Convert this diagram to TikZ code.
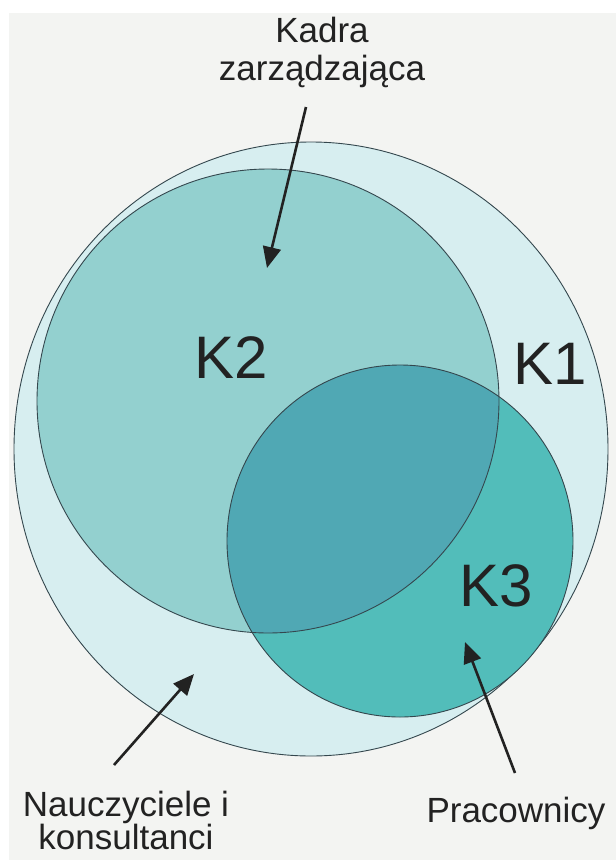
\documentclass[tikz,border=0pt]{standalone}
\usepackage{fontspec}
\setmainfont{Liberation Sans}
\usetikzlibrary{arrows.meta}
\definecolor{bgc}{HTML}{F3F4F2}
\definecolor{kone}{HTML}{D7EEF0}
\definecolor{ktwo}{HTML}{93D0CF}
\definecolor{kthree}{HTML}{52BDBA}
\definecolor{kover}{HTML}{50A8B4}
\definecolor{edgec}{HTML}{34474E}
\definecolor{txtc}{HTML}{222222}
\tikzset{
  setline/.style={draw=edgec, line width=0.9pt},
  lbl/.style={font=\fontsize{35}{38}\selectfont, text=txtc, inner sep=0pt, align=center},
  lblb/.style={font=\fontsize{35}{33}\selectfont, text=txtc, inner sep=0pt, align=center},
  klbl/.style={font=\fontsize{60}{66}\selectfont, text=txtc, inner sep=0pt, anchor=base},
  pointer/.style={draw=txtc, line width=2.6pt, -{Triangle[length=21pt,width=18pt]}}
}
\begin{document}
\begin{tikzpicture}[x=1pt,y=-1pt]
  \useasboundingbox (0,0) rectangle (616,860);
  \fill[white] (0,0) rectangle (616,860);
  \fill[bgc] (9,13) rectangle (616,860);
  % K1
  \path[setline, fill=kone] (311,449) ellipse [x radius=297pt, y radius=307pt];
  % K3 fill
  \fill[kthree] (400,541) ellipse [x radius=173pt, y radius=176pt];
  % K2 fill
  \fill[ktwo] (268,401) ellipse [x radius=231pt, y radius=232pt];
  % overlap
  \begin{scope}
    \clip (268,401) ellipse [x radius=231pt, y radius=232pt];
    \fill[kover] (400,541) ellipse [x radius=173pt, y radius=176pt];
  \end{scope}
  \draw[setline] (268,401) ellipse [x radius=231pt, y radius=232pt];
  \draw[setline] (400,541) ellipse [x radius=173pt, y radius=176pt];
  % set labels
  \node[klbl] (k2) at (231,378) {K2};
  \node[klbl] (k1) at (550,384) {K1};
  \node[klbl] (k3) at (496,606) {K3};
  % group labels
  \node[lbl, anchor=north] (kadra) at (322,17) {Kadra\\zarządzająca};
  \node[lblb, anchor=north] (naucz) at (126,791) {Nauczyciele i\\konsultanci};
  \node[lbl, anchor=base] (prac) at (516,822) {Pracownicy};
  % arrows
  \coordinate (kadraS) at (306,107);
  \coordinate (kadraT) at (267,268);
  \coordinate (nauczS) at (114,765);
  \coordinate (nauczT) at (194,674);
  \coordinate (pracS) at (515,773);
  \coordinate (pracT) at (465,642);
  \draw[pointer] (kadraS) -- (kadraT);
  \draw[pointer] (nauczS) -- (nauczT);
  \draw[pointer] (pracS) -- (pracT);
\end{tikzpicture}
\end{document}
